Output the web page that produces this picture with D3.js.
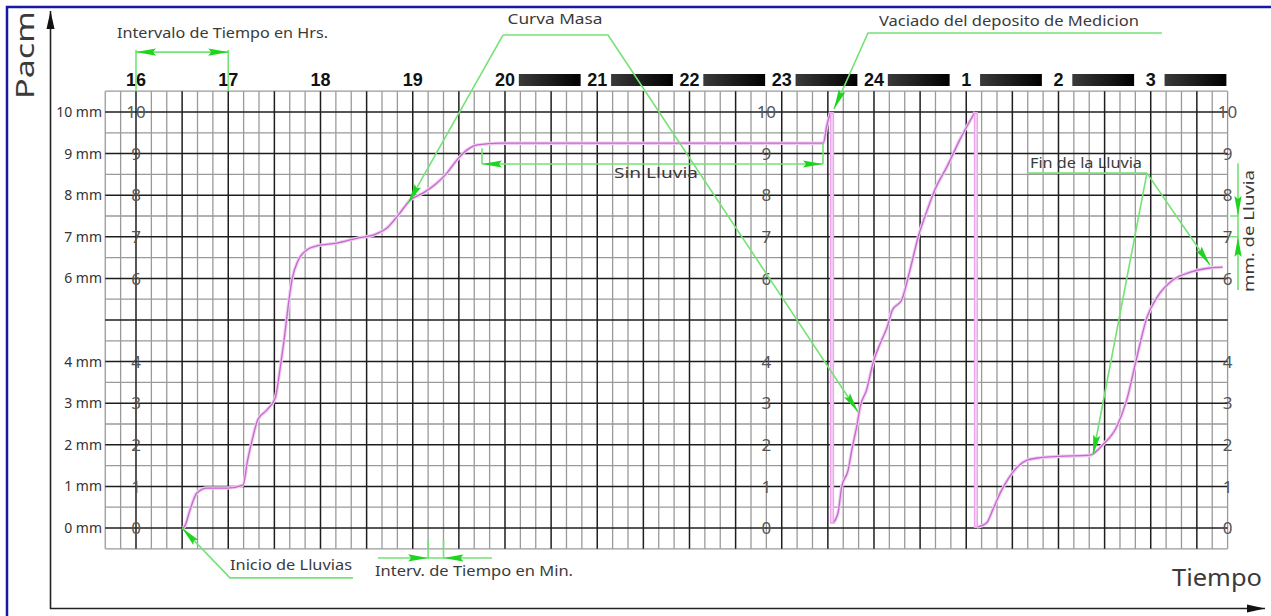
<!DOCTYPE html>
<html><head><meta charset="utf-8">
<script src="https://cdn.jsdelivr.net/npm/d3@7"></script>
<style>body{margin:0;background:#fff;}svg{display:block}</style>
</head><body>
<svg id="c" width="1271" height="616"></svg>
<script>
// ---------- data ----------
const hourValues = [16,17,18,19,20,21,22,23,24,25,26,27];
const hourLabels = ["16","17","18","19","20","21","22","23","24","1","2","3"];
const barHours = [20,21,22,23,24,25,26,27];
const mmTicks = [10,9,8,7,6,4,3,2,1,0];
const mmLabels = ["10 mm","9 mm","8 mm","7 mm","6 mm","4 mm","3 mm","2 mm","1 mm","0 mm"];
const scaleHours = [16, 22+50/60, 27+50/60];   // where the paper's own 0-10 scale is printed
// mass curve (hour, mm) - three pen traces
const curve1 = [[16.51,0],[16.53,0.05],[16.585,0.43],[16.66,0.84],[16.77,0.96],[16.99,0.96],[17.16,1.03],
  [17.21,1.63],[17.26,2.12],[17.32,2.6],[17.42,2.84],[17.51,3.13],[17.56,3.8],[17.61,4.6],[17.645,5.25],
  [17.69,5.96],[17.76,6.44],[17.85,6.68],[17.96,6.78],[18.18,6.85],[18.4,6.97],[18.57,7.04],[18.72,7.21],
  [18.86,7.57],[18.97,7.88],[19.11,8.05],[19.26,8.29],[19.37,8.53],[19.48,8.85],[19.59,9.09],[19.7,9.21],
  [19.95,9.25],[23.45,9.25],[23.49,9.69],[23.53,10.0]];
const curve2 = [[23.556,0.12],[23.61,0.36],[23.65,0.99],[23.72,1.39],[23.76,1.88],[23.82,2.52],[23.85,2.91],
  [23.92,3.32],[23.99,3.97],[24.07,4.45],[24.14,4.81],[24.2,5.24],[24.3,5.48],[24.39,6.2],[24.48,7.0],
  [24.59,7.72],[24.66,8.13],[24.79,8.68],[24.93,9.33],[25.095,10.0]];
const curve3 = [[25.115,0.02],[25.22,0.12],[25.29,0.45],[25.37,0.85],[25.46,1.2],[25.56,1.48],[25.66,1.63],
  [25.8,1.69],[26.0,1.72],[26.34,1.75],[26.48,2.0],[26.63,2.43],[26.74,3.08],[26.85,4.11],[26.96,5.07],
  [27.07,5.55],[27.24,5.96],[27.43,6.15],[27.64,6.25],[27.78,6.27]];
const drops = [[23.545,10.0,0.1],[25.105,10.0,0.0]];   // hour, from mm, to mm (siphon emptying)

// ---------- layout ----------
const svg = d3.select("#c");
const x = d3.scaleLinear().domain([15+40/60, 27+50/60]).range([105.25, 1227.6]);
const y = d3.scaleLinear().domain([-0.5, 10.5]).range([548.8, 91.2]);
const P = (t,v) => [x(t), y(v)];
const FONT = "'Noto Sans', 'DejaVu Sans', sans-serif";
const GREEN = "#74e274", GREENA = "#1fd41f", TXT = "#3a3a3a";

const defs = svg.append("defs");
const g1 = defs.append("linearGradient").attr("id","bar").attr("x1","0").attr("x2","1").attr("y1","0").attr("y2","0");
g1.append("stop").attr("offset","0").attr("stop-color","#3a3a3a");
g1.append("stop").attr("offset","1").attr("stop-color","#000");
defs.append("marker").attr("id","ga").attr("viewBox","0 -5 20 10").attr("refX",20).attr("refY",0)
  .attr("markerUnits","userSpaceOnUse").attr("markerWidth",20).attr("markerHeight",10)
  .attr("orient","auto-start-reverse")
  .append("path").attr("d","M0,-3.6L20,0L0,3.6L3,0Z").attr("fill",GREENA);
defs.append("marker").attr("id","ka").attr("viewBox","0 -5 18 10").attr("refX",18).attr("refY",0)
  .attr("markerUnits","userSpaceOnUse").attr("markerWidth",18).attr("markerHeight",10)
  .attr("orient","auto")
  .append("path").attr("d","M0,-4L18,0L0,4Z").attr("fill","#111");

// blue frame
svg.append("rect").attr("x",7).attr("y",7).attr("width",1290).attr("height",640)
  .attr("fill","none").attr("stroke","#1818a0").attr("stroke-width",2.5);

// axes frame
svg.append("line").attr("x1",50.5).attr("y1",609).attr("x2",50.5).attr("y2",11)
  .attr("stroke","#222").attr("stroke-width",1.6).attr("marker-end","url(#ka)");
svg.append("line").attr("x1",50).attr("y1",608.5).attr("x2",1265).attr("y2",608.5)
  .attr("stroke","#222").attr("stroke-width",1.6).attr("marker-end","url(#ka)");
svg.append("text").attr("transform","translate(34,55) rotate(-90)").attr("text-anchor","middle")
  .attr("font-family",FONT).attr("font-size",26).attr("fill",TXT)
  .attr("textLength",88).attr("lengthAdjust","spacingAndGlyphs").text("Pacm");
svg.append("text").attr("x",1172).attr("y",586).attr("font-family",FONT).attr("font-size",23)
  .attr("fill",TXT).attr("textLength",90).attr("lengthAdjust","spacingAndGlyphs").text("Tiempo");

// ---------- grid ----------
const t0 = x.domain()[0];
const vlines = d3.range(0,74).map(i => ({t: t0 + i/6, thick: ((40 + 10*i) % 30) === 0}));
const hlines = d3.range(0,23).map(i => ({v: -0.5 + i*0.5, thick: (i % 2 === 1)}));
const grid = svg.append("g");
const drawGrid = thick => {
  grid.selectAll(null).data(vlines.filter(d => d.thick === thick)).join("line")
    .attr("x1", d => x(d.t)).attr("x2", d => x(d.t)).attr("y1", y(10.5)).attr("y2", y(-0.5))
    .attr("stroke", thick ? "#1e1e1e" : "#9a9a9a").attr("stroke-width", thick ? 1.5 : 1.3);
  grid.selectAll(null).data(hlines.filter(d => d.thick === thick)).join("line")
    .attr("y1", d => y(d.v)).attr("y2", d => y(d.v)).attr("x1", x.range()[0]).attr("x2", x.range()[1])
    .attr("stroke", thick ? "#1e1e1e" : "#9a9a9a").attr("stroke-width", thick ? 1.5 : 1.3);
};
drawGrid(false); drawGrid(true);

// hour labels + bars
svg.selectAll(null).data(barHours).join("rect")
  .attr("x", d => x(d + 0.15)).attr("width", d => x(Math.min(d + 0.82, x.domain()[1])) - x(d + 0.15))
  .attr("y", 74).attr("height", 12).attr("fill","url(#bar)");
svg.selectAll(null).data(hourValues).join("text")
  .attr("x", d => x(d)).attr("y", 86).attr("text-anchor","middle")
  .attr("font-family","'Liberation Sans', Arial, sans-serif").attr("font-weight","bold")
  .attr("font-size",18).attr("fill","#111").text((d,i) => hourLabels[i]);

// mm labels
svg.selectAll(null).data(mmTicks).join("text")
  .attr("x",102).attr("y", d => y(d)).attr("dy","0.36em").attr("text-anchor","end")
  .attr("font-family",FONT).attr("font-size",14).attr("fill","#333").text((d,i) => mmLabels[i]);

// printed scales on the paper
scaleHours.forEach(h => {
  svg.selectAll(null).data(mmTicks).join("text")
    .attr("x", x(h)).attr("y", d => y(d)).attr("dy","0.36em").attr("text-anchor","middle")
    .attr("font-family",FONT).attr("font-size",17).attr("fill","#555").text(d => d);
});

// ---------- mass curve ----------
const line = d3.line().x(d => x(d[0])).y(d => y(d[1])).curve(d3.curveMonotoneX);
[curve1, curve2, curve3].forEach(c => {
  svg.append("path").attr("d", line(c)).attr("fill","none").attr("stroke","#f0cdf2").attr("stroke-width",3.4);
  svg.append("path").attr("d", line(c)).attr("fill","none").attr("stroke","#c46acc").attr("stroke-width",1.3);
});
drops.forEach(d => {
  svg.append("line").attr("x1", x(d[0])).attr("x2", x(d[0])).attr("y1", y(d[1])).attr("y2", y(d[2]))
    .attr("stroke","#eda6ee").attr("stroke-width",4.2);
  svg.append("line").attr("x1", x(d[0])).attr("x2", x(d[0])).attr("y1", y(d[1])+2).attr("y2", y(d[2])-2)
    .attr("stroke","#fbe2fb").attr("stroke-width",1.2);
});

// ---------- annotations ----------
const ann = svg.append("g").attr("fill","none").attr("stroke",GREEN).attr("stroke-width",1.6);
const pl = (pts, start, end) => {
  const p = ann.append("path").attr("d", "M" + pts.map(d => P(d[0], d[1]).join(",")).join("L"));
  if (start) p.attr("marker-start","url(#ga)");
  if (end) p.attr("marker-end","url(#ga)");
  return p;
};
const label = (txt, t, v, len, anchor, size) => svg.append("text")
  .attr("x", x(t)).attr("y", y(v)).attr("text-anchor", anchor || "start")
  .attr("font-family",FONT).attr("font-size", size || 15).attr("fill",TXT)
  .attr("textLength",len).attr("lengthAdjust","spacingAndGlyphs").text(txt);

// Intervalo de Tiempo en Hrs.
pl([[16,11.49],[16,10.5]]); pl([[17,11.49],[17,10.5]]);
pl([[16,11.44],[17,11.44]], true, true);
label("Intervalo de Tiempo en Hrs.", 15.794, 11.78, 211);

// Curva Masa
pl([[19.978,11.85],[18.95,7.81]], false, true);
pl([[19.978,11.85],[21.117,11.85],[23.827,2.79]], false, true);
label("Curva Masa", 20.542, 12.12, 95, "middle");

// Vaciado del deposito de Medicion
pl([[27.122,11.9],[23.935,11.9],[23.566,10.07]], false, true);
label("Vaciado del deposito de Medicion", 24.054, 12.07, 260);

// Sin Lluvia
pl([[19.751,9.13],[19.751,8.75]]); pl([[23.447,9.25],[23.447,8.75]]);
pl([[19.751,8.75],[23.447,8.75]], true, true);
label("Sin Lluvia", 21.637, 8.41, 84, "middle");

// Fin de la Lluvia
pl([[25.659,8.53],[26.959,8.53]]);
pl([[26.959,8.53],[26.374,1.755]], false, true);
pl([[26.959,8.53],[27.642,6.32]], false, true);
label("Fin de la Lluvia", 25.691, 8.65, 112);

// mm. de Lluvia
pl([[27.946,8.77],[27.946,7.5]], false, true);
pl([[27.859,7.5],[27.946,7.5],[27.946,7.0],[27.859,7.0]]);
pl([[27.946,5.72],[27.946,7.0]], false, true);
svg.append("text").attr("transform", `translate(${x(28.12)},${y(7.14)}) rotate(-90)`)
  .attr("text-anchor","middle").attr("font-family",FONT).attr("font-size",15).attr("fill",TXT)
  .attr("textLength",122).attr("lengthAdjust","spacingAndGlyphs").text("mm. de Lluvia");

// Inicio de Lluvias
pl([[18.352,-1.2],[17.019,-1.2],[16.499,0]], false, true);
label("Inicio de Lluvias", 17.019, -1.0, 122);

// Interv. de Tiempo en Min.
pl([[19+10/60,-0.29],[19+10/60,-0.72],[19+20/60,-0.72],[19+20/60,-0.29]]);
pl([[18.623,-0.72],[19+10/60,-0.72]], false, true);
pl([[19.859,-0.72],[19+20/60,-0.72]], false, true);
label("Interv. de Tiempo en Min.", 18.591, -1.154, 198);
</script>
</body></html>
